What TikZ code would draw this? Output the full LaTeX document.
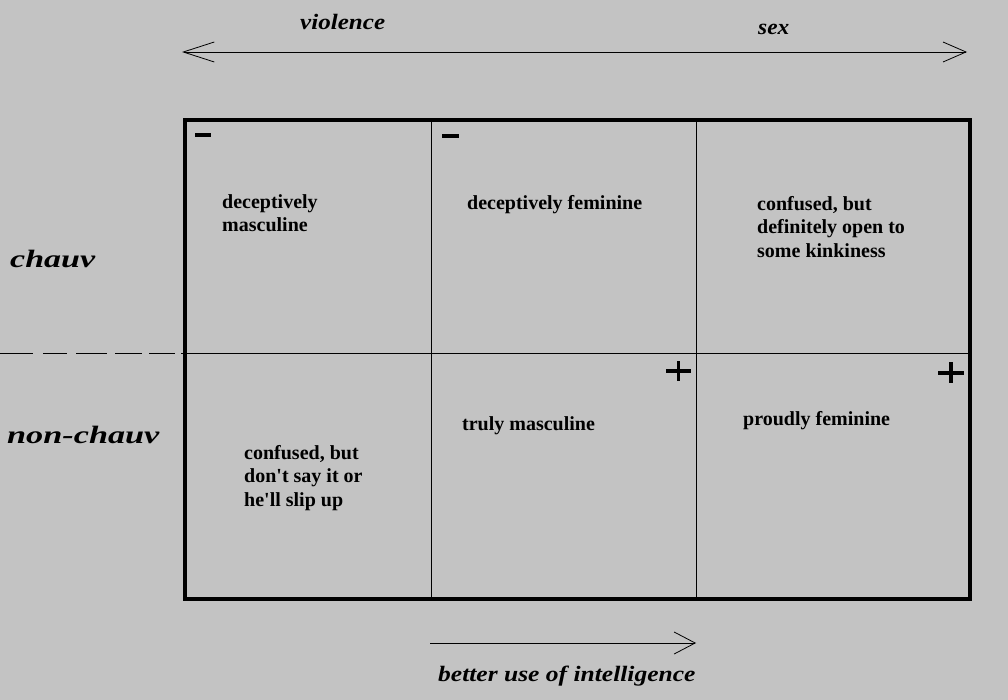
\documentclass[tikz,border=0pt]{standalone}
\usepackage{fontspec}
\setmainfont{Liberation Serif}
\usetikzlibrary{arrows.meta}
\definecolor{bg}{RGB}{195,195,195}
\tikzset{
  cell/.style={anchor=base west, inner sep=0pt, font=\bfseries\fontsize{20}{23.5}\selectfont, align=left},
  lab/.style={anchor=base west, inner sep=0pt, font=\bfseries\itshape\fontsize{22}{26}\selectfont},
  biglab/.style={anchor=base west, inner sep=0pt, font=\bfseries\itshape\fontsize{25}{28}\selectfont},
  thin/.style={line width=1pt},
  frame/.style={line width=4pt},
  sign/.style={line width=3.2pt},
}
\begin{document}
\begin{tikzpicture}[x=1pt,y=-1pt]
\fill[bg] (0,0) rectangle (1008,700);
\useasboundingbox (0,0) rectangle (1008,700);
% grid
\draw[thin] (431,120) -- (431,599);
\draw[thin] (696,120) -- (696,599);
\draw[thin] (185,353) -- (969,353);
\draw[frame] (185,120) rectangle (969.5,599);
% dashed left line
\foreach \a/\b in {0/33,43/67,76/107,115/142,149/175,181/185}
  \draw[thin] (\a,353) -- (\b,353);
% signs
\draw[sign] (195,135) -- (211,135);
\draw[sign] (442,136) -- (459,136);
\draw[sign] (666,371) -- (691,371);
\draw[sign] (678.5,361) -- (678.5,381);
\draw[sign] (938,373) -- (964,373);
\draw[sign] (951,362) -- (951,383);
% arrows
\coordinate (tl) at (182,52);
\coordinate (tr) at (967,52);
\coordinate (bl) at (430,643);
\coordinate (br) at (696,643);
\draw[line width=0.9pt, {Straight Barb[length=31pt,width=20pt,line width=0.8pt]}-{Straight Barb[length=23pt,width=20pt,line width=0.8pt]}] (tl) -- (tr);
\draw[line width=0.9pt, -{Straight Barb[length=21pt,width=22pt,line width=0.8pt]}] (bl) -- (br);
% labels
\node[lab] (violence) at (300,30) {\scalebox{1.14}[1]{violence}};
\node[lab] (sex) at (758,34.5) {\scalebox{1.06}[1]{sex}};
\node[biglab] (chauv) at (10,268) {\scalebox{1.36}[1]{chauv}};
\node[biglab] (nonchauv) at (7,443) {\scalebox{1.37}[1]{non-chauv}};
\node[lab] (better) at (438,681) {\scalebox{1.16}[1]{better use of intelligence}};
% cells (anchor = baseline of last line)
\node[cell] (c11) at (222,232) {deceptively\\masculine};
\node[cell] (c12) at (467,210) {deceptively feminine};
\node[cell] (c13) at (757,257.5) {confused, but\\definitely open to\\some kinkiness};
\node[cell] (c21) at (244,506) {confused, but\\don\textquotesingle t say it or\\he\textquotesingle ll slip up};
\node[cell] (c22) at (462,430) {truly masculine};
\node[cell] (c23) at (743,425) {proudly feminine};
\end{tikzpicture}
\end{document}
